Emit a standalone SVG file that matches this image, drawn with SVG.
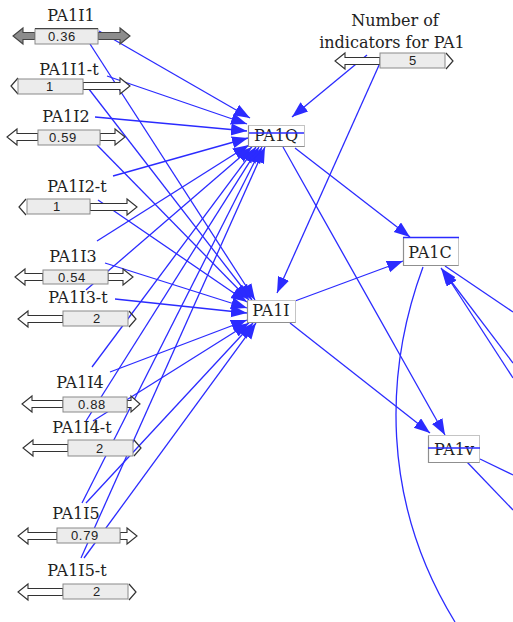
<svg xmlns="http://www.w3.org/2000/svg" width="513" height="622" viewBox="0 0 513 622">
<defs>
<marker id="ah" markerUnits="userSpaceOnUse" markerWidth="18" markerHeight="13" refX="16" refY="6" orient="auto">
<path d="M0,0 L16,6 L0,12 Z" fill="#2b2bff"/>
</marker>
</defs>
<style>
.c{stroke:#2b2bff;stroke-width:1.3;fill:none}
.ca{stroke:#2b2bff;stroke-width:1.3;fill:none;marker-end:url(#ah)}
.lbl{font-family:"DejaVu Serif",serif;font-size:16px;fill:#222;text-anchor:middle}
.val{font-family:"Liberation Sans",Arial,sans-serif;font-size:13px;fill:#222;text-anchor:middle;letter-spacing:0.7px}
.bar{fill:#ececec;stroke:#8a8a8a;stroke-width:1}
.ha{fill:#fff;stroke:#333;stroke-width:1.1}
.ga{fill:#8c8c8c;stroke:#444;stroke-width:1.1}
.chev{fill:none;stroke:#333;stroke-width:1.2}
.box{fill:#fff;stroke:#c4c4c4;stroke-width:1}
.edge{stroke:#8f8f8f;stroke-width:1.2}
.strike{stroke:#2b2bff;stroke-width:1.3}
</style>
<rect width="513" height="622" fill="#fff"/>
<g id="connectors">
<line class="ca" x1="99" y1="31" x2="250" y2="118"/>
<line class="ca" x1="107" y1="76" x2="247" y2="124"/>
<line class="ca" x1="95" y1="117" x2="247" y2="131"/>
<line class="ca" x1="113" y1="176" x2="248" y2="138"/>
<line class="ca" x1="97" y1="241" x2="249" y2="145"/>
<line class="ca" x1="86" y1="290" x2="252" y2="147"/>
<line class="ca" x1="92" y1="367" x2="256" y2="147"/>
<line class="ca" x1="86" y1="421" x2="259" y2="147"/>
<line class="ca" x1="82" y1="503" x2="262" y2="147"/>
<line class="ca" x1="81" y1="558" x2="265" y2="147"/>
<line class="ca" x1="90" y1="44" x2="255" y2="300"/>
<line class="ca" x1="85" y1="84" x2="252" y2="300"/>
<line class="ca" x1="97" y1="145" x2="249" y2="300"/>
<line class="ca" x1="98" y1="200" x2="247" y2="302"/>
<line class="ca" x1="105" y1="263" x2="247" y2="308"/>
<line class="ca" x1="115" y1="299" x2="247" y2="313"/>
<line class="ca" x1="110" y1="372" x2="247" y2="320"/>
<line class="ca" x1="93" y1="421" x2="249" y2="323"/>
<line class="ca" x1="86" y1="503" x2="253" y2="323"/>
<line class="ca" x1="84" y1="558" x2="256" y2="323"/>
<line class="ca" x1="367" y1="55" x2="292" y2="117"/>
<line class="ca" x1="380" y1="63" x2="277" y2="293"/>
<line class="ca" x1="295" y1="148" x2="410" y2="237"/>
<line class="ca" x1="283" y1="147" x2="445" y2="435"/>
<line class="ca" x1="295" y1="301" x2="403" y2="261"/>
<line class="ca" x1="290" y1="323" x2="430" y2="433"/>
<path class="c" d="M423,267 C385,370 380,500 455,622"/>
<line class="ca" x1="513" y1="363" x2="441" y2="268"/>
<line class="ca" x1="513" y1="378" x2="443" y2="270"/>
<line class="c" x1="445" y1="266" x2="513" y2="312"/>
<line class="c" x1="480" y1="459" x2="513" y2="475"/>
<line class="c" x1="467" y1="462" x2="513" y2="510"/>
</g>
<g id="PA1I1">
<polygon class="ga" points="13,36 23,28 23,32.5 35,32.5 35,39.5 23,39.5 23,44"/>
<polygon class="ga" points="130,36 120,28 120,32.5 98,32.5 98,39.5 120,39.5 120,44"/>
<rect class="bar" x="35" y="29" width="63" height="15"/>
<line x1="35" y1="28.5" x2="98" y2="28.5" stroke="#444"/>
<text class="val" x="62" y="41">0.36</text>
<text class="lbl" x="71" y="21">PA1I1</text>
</g>
<g id="PA1I1-t">
<polyline class="chev" points="18,78 11,86 18,94"/>
<polygon class="ha" points="130,86 120,78 120,82.5 83,82.5 83,89.5 120,89.5 120,94"/>
<rect class="bar" x="18" y="79" width="65" height="15"/>
<text class="val" x="50" y="91">1</text>
<text class="lbl" x="69" y="75">PA1I1-t</text>
</g>
<g id="PA1I2">
<polygon class="ha" points="7,137 17,129 17,133.5 38,133.5 38,140.5 17,140.5 17,145"/>
<polygon class="ha" points="125,137 115,129 115,133.5 100,133.5 100,140.5 115,140.5 115,145"/>
<rect class="bar" x="38" y="130" width="62" height="15"/>
<text class="val" x="63" y="142">0.59</text>
<text class="lbl" x="66" y="122">PA1I2</text>
</g>
<g id="PA1I2-t">
<polyline class="chev" points="26,199 19,207 26,215"/>
<polygon class="ha" points="137,207 127,199 127,203.5 90,203.5 90,210.5 127,210.5 127,215"/>
<rect class="bar" x="27" y="199" width="63" height="15"/>
<text class="val" x="57" y="211">1</text>
<text class="lbl" x="77" y="192">PA1I2-t</text>
</g>
<g id="PA1I3">
<polygon class="ha" points="15,277 25,269 25,273.5 43,273.5 43,280.5 25,280.5 25,285"/>
<polygon class="ha" points="133,277 123,269 123,273.5 108,273.5 108,280.5 123,280.5 123,285"/>
<rect class="bar" x="43" y="270" width="65" height="14"/>
<text class="val" x="72" y="282">0.54</text>
<text class="lbl" x="73" y="262">PA1I3</text>
</g>
<g id="PA1I3-t">
<polygon class="ha" points="18,319 28,311 28,315.5 63,315.5 63,322.5 28,322.5 28,327"/>
<polyline class="chev" points="129,311 136,319 129,327"/>
<rect class="bar" x="63" y="311" width="65" height="15"/>
<text class="val" x="97" y="323">2</text>
<text class="lbl" x="78" y="303">PA1I3-t</text>
</g>
<g id="PA1I4">
<polygon class="ha" points="22,404 32,396 32,400.5 63,400.5 63,407.5 32,407.5 32,412"/>
<polygon class="ha" points="140,404 131,396 131,400.5 127,400.5 127,407.5 131,407.5 131,412"/>
<rect class="bar" x="63" y="397" width="64" height="15"/>
<text class="val" x="92" y="409">0.88</text>
<text class="lbl" x="80" y="388">PA1I4</text>
</g>
<g id="PA1I4-t">
<polygon class="ha" points="23,448 33,440 33,444.5 68,444.5 68,451.5 33,451.5 33,456"/>
<polyline class="chev" points="134,440 141,448 134,456"/>
<rect class="bar" x="68" y="440" width="65" height="16"/>
<text class="val" x="100" y="453">2</text>
<text class="lbl" x="82" y="433">PA1I4-t</text>
</g>
<g id="PA1I5">
<polygon class="ha" points="18,536 28,528 28,532.5 57,532.5 57,539.5 28,539.5 28,544"/>
<polygon class="ha" points="137,536 127,528 127,532.5 120,532.5 120,539.5 127,539.5 127,544"/>
<rect class="bar" x="57" y="528" width="63" height="15"/>
<text class="val" x="85" y="540">0.79</text>
<text class="lbl" x="76" y="519">PA1I5</text>
</g>
<g id="PA1I5-t">
<polygon class="ha" points="18,592 28,584 28,588.5 63,588.5 63,595.5 28,595.5 28,600"/>
<polyline class="chev" points="129,584 136,592 129,600"/>
<rect class="bar" x="63" y="584" width="65" height="15"/>
<text class="val" x="97" y="596">2</text>
<text class="lbl" x="77" y="576">PA1I5-t</text>
</g>
<g id="NumberOfIndicators">
<polygon class="ha" points="335,61 345,53 345,57.5 380,57.5 380,64.5 345,64.5 345,69"/>
<polyline class="chev" points="446,53 453,61 446,69"/>
<rect class="bar" x="380" y="53" width="65" height="15"/>
<text class="val" x="413" y="65">5</text>
<text class="lbl" x="395" y="26">Number of</text>
<text class="lbl" x="392" y="48">indicators for PA1</text>
</g>
<g id="PA1Q">
<rect class="box" x="248.5" y="125.5" width="56" height="21"/>
<polyline class="edge" fill="none" points="248.5,125.5 248.5,146.5 304.5,146.5"/>
<text class="lbl" x="276" y="141">PA1Q</text>
<line class="strike" x1="249" y1="133" x2="304" y2="133"/>
</g>
<g id="PA1I">
<rect class="box" x="247.5" y="300.5" width="48" height="22"/>
<polyline class="edge" fill="none" points="247.5,300.5 247.5,322.5 295.5,322.5"/>
<text class="lbl" x="271" y="316">PA1I</text>
</g>
<g id="PA1C">
<rect class="box" x="403.5" y="237.5" width="55" height="28"/>
<polyline class="edge" fill="none" points="403.5,237.5 403.5,265.5 458.5,265.5"/>
<line class="strike" x1="403" y1="237.5" x2="459" y2="237.5"/>
<text class="lbl" x="430" y="258">PA1C</text>
</g>
<g id="PA1v">
<rect class="box" x="428.5" y="435.5" width="51" height="27"/>
<polyline class="edge" fill="none" points="428.5,435.5 428.5,462.5 479.5,462.5"/>
<text class="lbl" x="454" y="455">PA1v</text>
<line class="strike" x1="428" y1="448" x2="480" y2="448"/>
</g>
</svg>
